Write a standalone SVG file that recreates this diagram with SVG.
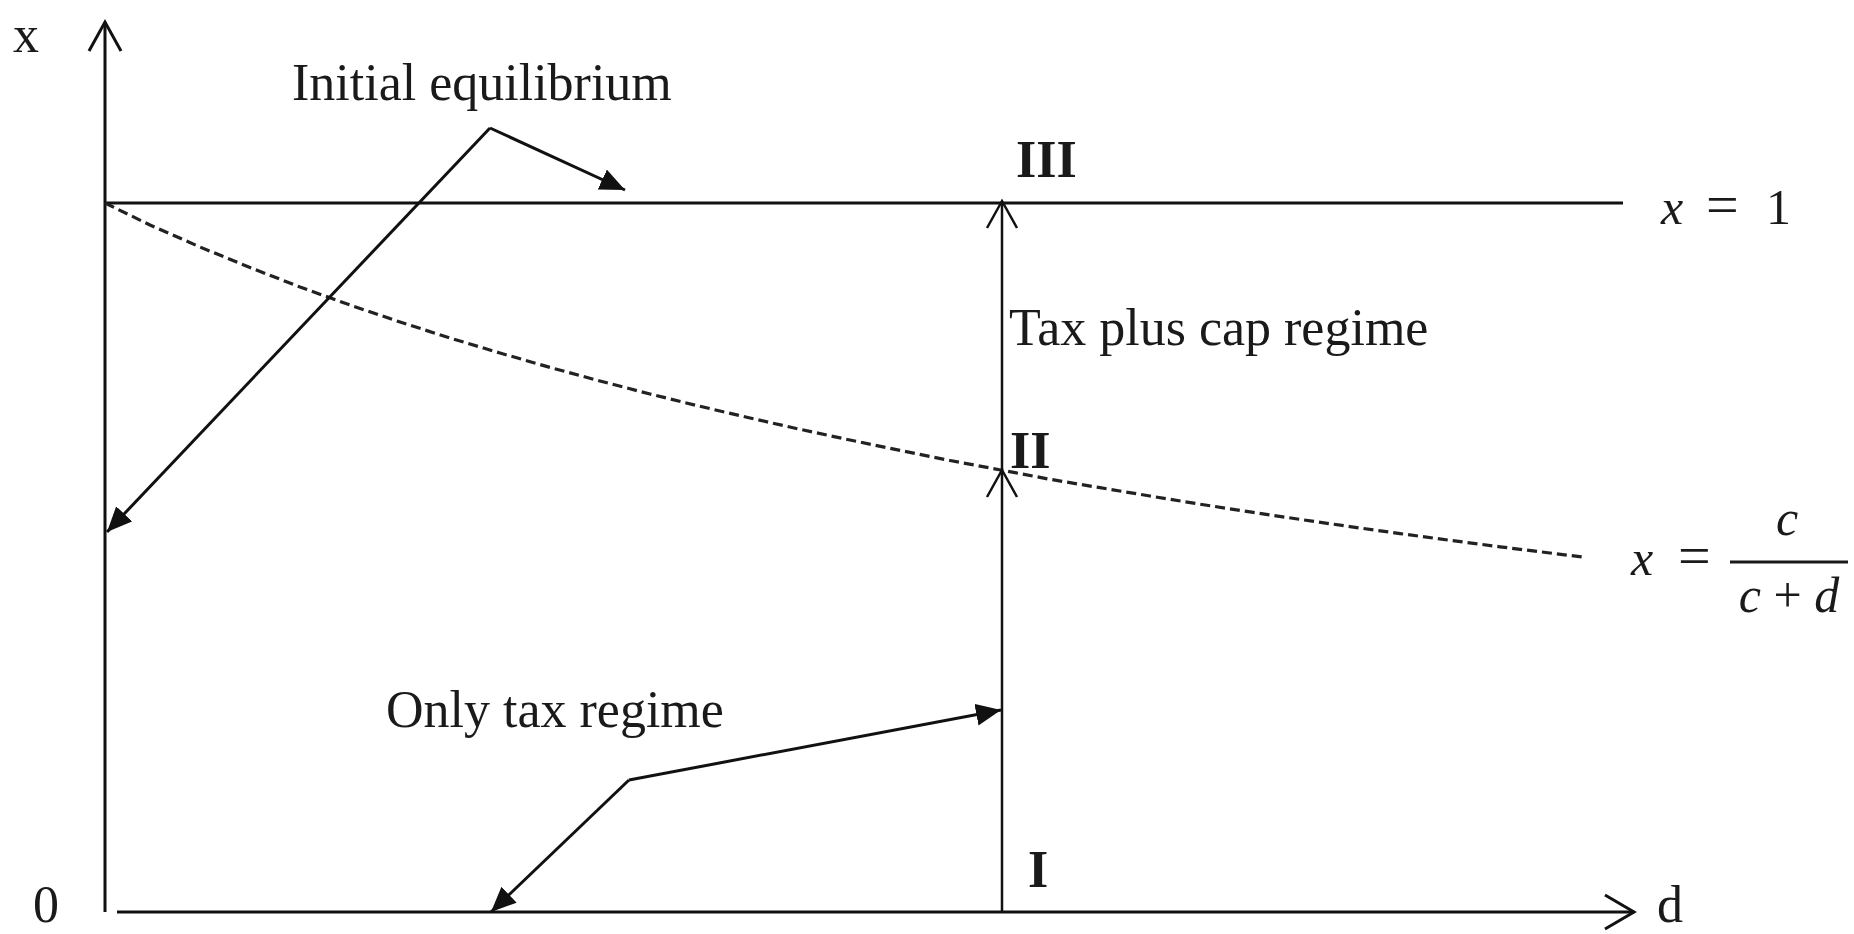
<svg xmlns="http://www.w3.org/2000/svg" width="1854" height="934" viewBox="0 0 1854 934">
  <defs>
    <style>
      .lbl { font-family: "Liberation Serif", "Times New Roman", serif; font-size: 52px; fill: #1a1a1a; }
      .bold { font-weight: bold; }
      .math { font-family: "Liberation Serif", "Times New Roman", serif; font-size: 50px; fill: #1a1a1a; }
      .eq { font-size: 58px; }
      .it { font-style: italic; }
      .ln { stroke: #111; stroke-width: 3; fill: none; }
      .thin { stroke: #111; stroke-width: 2.5; fill: none; }
      .dash { stroke: #222; stroke-width: 3.2; fill: none; stroke-dasharray: 10 5; }
      .arr { stroke: #111; stroke-width: 3; fill: none; marker-end: url(#fa); }
    </style>
    <marker id="fa" markerUnits="userSpaceOnUse" markerWidth="28" markerHeight="24" refX="25" refY="11" orient="auto">
      <path d="M0,0 L25,11 L0,22 z" fill="#111"/>
    </marker>
  </defs>
  <rect width="1854" height="934" fill="#ffffff"/>

  <g id="axes">
    <line class="ln" x1="105" y1="912" x2="105" y2="22"/>
    <polyline class="ln" points="89,51 105,22 121,51"/>
    <line class="ln" x1="117" y1="912" x2="1634" y2="912"/>
    <polyline class="ln" points="1605,895 1634,912 1605,929"/>
  </g>

  <g id="line-x1">
    <line class="ln" x1="105" y1="203" x2="1623" y2="203"/>
  </g>

  <g id="curve">
    <polyline class="dash" points="105,203 150,225 200,247 250,267.5 300,287 350,305 400,322 450,338 500,353 550,367.4 600,381 650,394 700,406.3 750,418 800,429.3 850,440 900,450.4 950,460.5 1002,470.2 1050,479.3 1100,487.7 1150,496 1200,504.2 1250,511.9 1300,519.4 1350,526.6 1400,533.6 1450,540.3 1500,546.8 1550,553 1582,556.9"/>
  </g>

  <g id="vertical">
    <line class="thin" x1="1002" y1="912" x2="1002" y2="202"/>
    <polyline class="thin" points="987,228 1002,201 1017,228"/>
    <polyline class="thin" points="987,497 1002,470 1017,497"/>
  </g>

  <g id="connectors">
    <polyline class="arr" points="490,128 625,190"/>
    <polyline class="arr" points="490,128 107,532"/>
    <polyline class="arr" points="629,780 1001,710"/>
    <polyline class="arr" points="629,780 491,912"/>
  </g>

  <g id="label-x"><text class="lbl" x="13" y="52">x</text></g>
  <g id="label-0"><text class="lbl" x="33" y="922">0</text></g>
  <g id="label-d"><text class="lbl" x="1657" y="922">d</text></g>
  <g id="label-initial"><text class="lbl" x="292" y="100">Initial equilibrium</text></g>
  <g id="label-taxcap"><text class="lbl" x="1009" y="345">Tax plus cap regime</text></g>
  <g id="label-onlytax"><text class="lbl" x="386" y="727">Only tax regime</text></g>
  <g id="label-III"><text class="lbl bold" x="1016" y="177">III</text></g>
  <g id="label-II"><text class="lbl bold" x="1010" y="468">II</text></g>
  <g id="label-I"><text class="lbl bold" x="1028" y="887">I</text></g>

  <g id="label-x-eq-1">
    <text class="math" y="224"><tspan class="it" x="1661">x</tspan><tspan class="eq" x="1706">=</tspan><tspan x="1766">1</tspan></text>
  </g>
  <g id="label-x-eq-frac">
    <text class="math" y="575"><tspan class="it" x="1631">x</tspan><tspan class="eq" x="1678">=</tspan></text>
    <line x1="1730" y1="562" x2="1848" y2="562" stroke="#1a1a1a" stroke-width="3"/>
    <text class="math it" x="1787" y="535" text-anchor="middle">c</text>
    <text class="math" x="1789" y="612" text-anchor="middle"><tspan class="it">c</tspan> + <tspan class="it">d</tspan></text>
  </g>
</svg>
